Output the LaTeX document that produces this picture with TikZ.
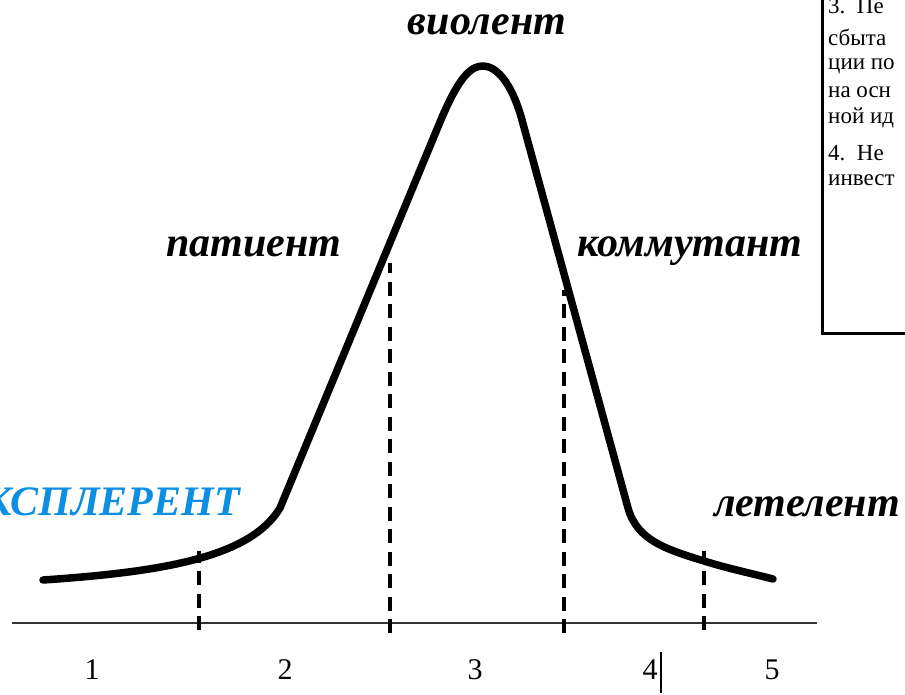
\documentclass[tikz,border=0pt]{standalone}
\usepackage{fontspec}
\setmainfont{Liberation Serif}
\usetikzlibrary{positioning}
\definecolor{explblue}{RGB}{12,142,226}

\begin{document}
\begin{tikzpicture}[x=1pt, y=-1pt,
    curve/.style={line width=7.5pt, line cap=round, line join=round},
    guide/.style={line width=4pt, dash pattern=on 14pt off 8.5pt},
    axisline/.style={line width=2pt, black!80},
    kind/.style={font=\fontsize{42}{50}\selectfont\bfseries\itshape, inner sep=0pt},
    zone/.style={font=\fontsize{30}{36}\selectfont, inner sep=0pt},
    note/.style={anchor=west, inner sep=0pt, font=\fontsize{23}{27}\selectfont}
]
\useasboundingbox (0,0) rectangle (905,694);

% axis
\coordinate (axl) at (12,623);
\coordinate (axr) at (817,623);
\draw[axisline] (axl) -- (axr);

% life cycle curve
\coordinate (start) at (43,580);
\coordinate (elbowl) at (280,508);
\coordinate (upl) at (440,122);
\coordinate (peak) at (483,66);
\coordinate (upr) at (522,120);
\coordinate (elbowr) at (628,508);
\coordinate (tail) at (704,561);
\coordinate (stop) at (773,579);
\draw[curve] (start) .. controls (160,572) and (250,558) .. (elbowl)
    -- (upl) .. controls (460,74) and (472,66) .. (peak)
    .. controls (495,66) and (511,80) .. (upr)
    -- (elbowr) .. controls (637,540) and (665,549) .. (tail)
    .. controls (730,569) and (750,573) .. (stop);

% zone borders
\coordinate (g1top) at (199,551);
\coordinate (g1bot) at (199,630);
\coordinate (g2top) at (390,263);
\coordinate (g2bot) at (390,633);
\coordinate (g3top) at (564,290);
\coordinate (g3bot) at (564,633);
\coordinate (g4top) at (704,551);
\coordinate (g4bot) at (704,630);
\foreach \g in {1,2,3,4}
    \draw[guide] (g\g bot) -- (g\g top);

% zone numbers
\node[zone] (z1) at (92,670) {1};
\node[zone] (z2) at (285,670) {2};
\node[zone] (z3) at (475,670) {3};
\node[zone] (z4) at (650,670) {4};
\node[zone] (z5) at (772,670) {5};
\draw[line width=1.2pt] (661,652) -- (661,693);

% company types
\node[kind] (violent) at (487,25) {виолент};
\node[kind] (patient) at (254,247) {патиент};
\node[kind] (commut) at (690,251) {коммутант};
\node[kind] (letel) at (807,507) {летелент};
\node[kind, text=explblue, anchor=east] (expler) at (240,502) {ЭКСПЛЕРЕНТ};

% side box
\draw[line width=3pt] (822,-20) rectangle (940,333);
\node[note] (n1) at (828,6) {3.\ \ Пе};
\node[note] (n2) at (828,37) {сбыта};
\node[note] (n3) at (828,66) {ции по};
\node[note] (n4) at (828,92) {на осн};
\node[note] (n5) at (828,118) {ной ид};
\node[note] (n6) at (828,153) {4.\ \ Не};
\node[note] (n7) at (828,180) {инвест};
\end{tikzpicture}
\end{document}
